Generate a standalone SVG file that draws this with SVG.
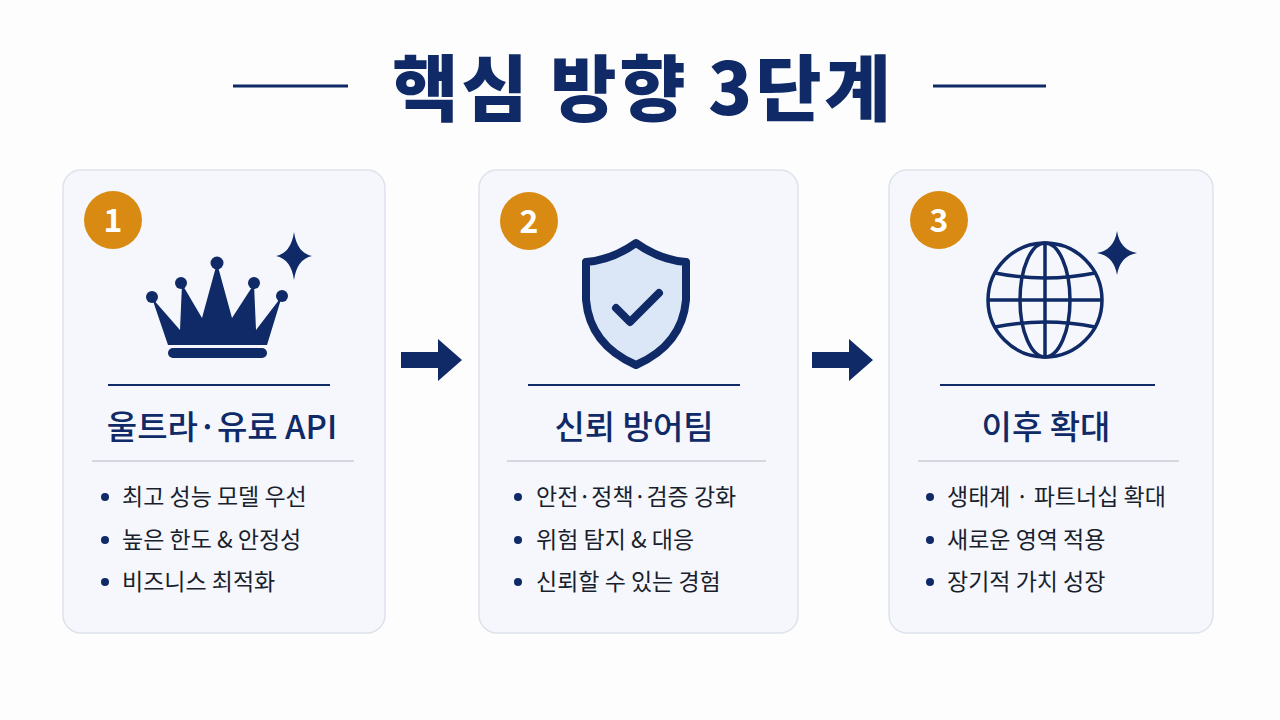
<svg xmlns="http://www.w3.org/2000/svg" width="1280" height="720" viewBox="0 0 1280 720">
<style>
text{font-family:"Noto Sans CJK KR","Noto Sans",sans-serif;fill:#0f2a66}
.card{fill:#f5f7fc;stroke:#dde2ec;stroke-width:1.5}
.badge{fill:#d98a12}
.bn{fill:#fff;font-size:32px;font-weight:700;text-anchor:middle}
.h{font-size:33px;font-weight:500;text-anchor:middle}
.b{font-size:23px;fill:#1a1f2e}
.nav{stroke:#0f2a66;stroke-width:2}
.gray{stroke:#c9cdd6;stroke-width:1.5}
.dot{fill:#0f2a66}
</style>
<rect width="1280" height="720" fill="#fdfdfe"/>
<g id="title">
<line x1="233" y1="86" x2="348" y2="86" stroke="#0f2a66" stroke-width="3"/>
<line x1="933" y1="86" x2="1046" y2="86" stroke="#0f2a66" stroke-width="3"/>
<text x="643" y="115" font-size="72" font-weight="900" letter-spacing="3" text-anchor="middle">핵심 방향 3단계</text>
</g>
<g id="card1">
<rect class="card" x="63" y="170" width="322" height="463" rx="18"/>
<circle class="badge" cx="113" cy="220" r="29"/><text class="bn" x="113" y="232">1</text>
<g fill="#0f2a66">
<path d="M152 298 L180 330 L182 284 L202 318 L217 263 L232 318 L254 284 L256 330 L282 296 L267 345 L168 345 Z"/>
<circle cx="152" cy="297" r="6"/><circle cx="181" cy="283" r="6"/><circle cx="217" cy="263" r="6.5"/><circle cx="254" cy="283" r="6"/><circle cx="282" cy="296" r="6"/>
<rect x="168" y="348" width="99" height="10" rx="5"/>
<path d="M294 232 Q297 253 312 256 Q297 259 294 280 Q291 259 276 256 Q291 253 294 232 Z"/>
</g>
<line class="nav" x1="108" y1="385" x2="330" y2="385"/>
<text class="h" x="222" y="439">울트라·유료 API</text>
<line class="gray" x1="92" y1="461" x2="354" y2="461"/>
<circle class="dot" cx="105" cy="497" r="4"/><text class="b" x="122" y="505">최고 성능 모델 우선</text>
<circle class="dot" cx="105" cy="540" r="4"/><text class="b" x="122" y="548">높은 한도 &amp; 안정성</text>
<circle class="dot" cx="105" cy="582" r="4"/><text class="b" x="122" y="590">비즈니스 최적화</text>
</g>
<g id="card2">
<rect class="card" x="479" y="170" width="319" height="463" rx="18"/>
<circle class="badge" cx="529" cy="221" r="29"/><text class="bn" x="529" y="233">2</text>
<path d="M636 243 Q612 260 586 262 L586 300 Q590 345 636 365 Q682 345 686 300 L686 262 Q660 260 636 243 Z" fill="#dbe6f7" stroke="#0f2a66" stroke-width="8" stroke-linejoin="round"/>
<path d="M616 308 L630 322 L659 293" fill="none" stroke="#0f2a66" stroke-width="8" stroke-linecap="round" stroke-linejoin="round"/>
<line class="nav" x1="528" y1="385" x2="740" y2="385"/>
<text class="h" x="634" y="439">신뢰 방어팀</text>
<line class="gray" x1="507" y1="461" x2="766" y2="461"/>
<circle class="dot" cx="518" cy="497" r="4"/><text class="b" x="536" y="505">안전·정책·검증 강화</text>
<circle class="dot" cx="518" cy="540" r="4"/><text class="b" x="536" y="548">위험 탐지 &amp; 대응</text>
<circle class="dot" cx="518" cy="582" r="4"/><text class="b" x="536" y="590">신뢰할 수 있는 경험</text>
</g>
<g id="card3">
<rect class="card" x="889" y="170" width="324" height="463" rx="18"/>
<circle class="badge" cx="939" cy="220" r="29"/><text class="bn" x="939" y="232">3</text>
<g fill="none" stroke="#0f2a66" stroke-width="3.5">
<circle cx="1045" cy="300" r="57"/>
<ellipse cx="1045" cy="300" rx="25" ry="57"/>
<line x1="1045" y1="243" x2="1045" y2="357"/>
<line x1="988" y1="300" x2="1102" y2="300"/>
<path d="M995 273 Q1045 283 1095 273"/>
<path d="M995 327 Q1045 317 1095 327"/>
</g>
<path fill="#0f2a66" d="M1117 231 Q1120 250 1137 253 Q1120 256 1117 275 Q1114 256 1097 253 Q1114 250 1117 231 Z"/>
<line class="nav" x1="940" y1="385" x2="1155" y2="385"/>
<text class="h" x="1046" y="439">이후 확대</text>
<line class="gray" x1="918" y1="461" x2="1179" y2="461"/>
<circle class="dot" cx="930" cy="497" r="4"/><text class="b" x="947" y="505">생태계 · 파트너십 확대</text>
<circle class="dot" cx="930" cy="540" r="4"/><text class="b" x="947" y="548">새로운 영역 적용</text>
<circle class="dot" cx="930" cy="582" r="4"/><text class="b" x="947" y="590">장기적 가치 성장</text>
</g>
<g id="connectors" fill="#0f2a66">
<path d="M401 352 L438 352 L438 339 L462 360 L438 381 L438 368 L401 368 Z"/>
<path d="M812 352 L849 352 L849 339 L873 360 L849 381 L849 368 L812 368 Z"/>
</g>
</svg>
